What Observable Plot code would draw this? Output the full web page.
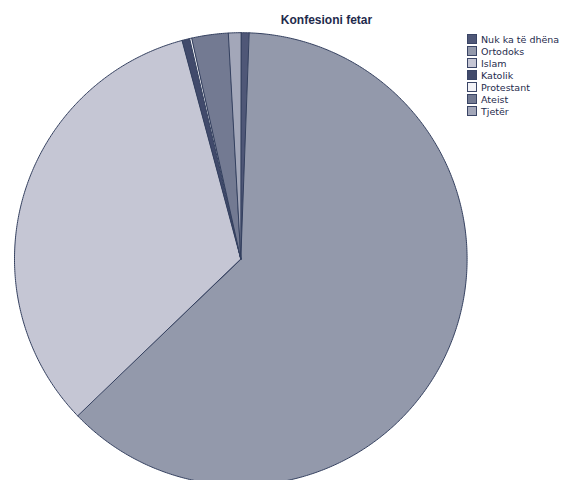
<!DOCTYPE html>
<html>
<head>
<meta charset="utf-8">
<script src="https://cdn.jsdelivr.net/npm/d3@7"></script>
<script src="https://cdn.jsdelivr.net/npm/@observablehq/plot@0.6"></script>
<style>
  html, body { margin: 0; padding: 0; background: #fff; overflow: hidden; }
  #wrap { position: relative; width: 561px; height: 480px; }
  #title { position: absolute; left: 0; width: 653px; top: 13px; text-align: center;
    font: bold 12px "Liberation Sans", Arial, sans-serif; color: #1f2b4d; }
  #legend { position: absolute; left: 467px; top: 33px; font: 9.5px "DejaVu Sans", sans-serif; color: #1f2b4d; }
  .row { height: 12px; line-height: 11px; display: flex; align-items: center; white-space: nowrap; }
  .sw { width: 8px; height: 8px; border: 1px solid #3a4566; margin-right: 4px; flex: none; }
</style>
</head>
<body>
<div id="wrap">
  <div id="chart"></div>
  <div id="title">Konfesioni fetar</div>
  <div id="legend"></div>
</div>
<script>
const categories = ["Nuk ka të dhëna", "Ortodoks", "Islam", "Katolik", "Protestant", "Ateist", "Tjetër"];
const values = [0.59, 62.2, 33.0, 0.55, 0.15, 2.6, 0.88];
const colors = ["#4f5777", "#9399ab", "#c5c6d4", "#414a6b", "#f2f2f6", "#737a92", "#a3a7b9"];

const rows = categories.map((c, i) => ({ key: c, value: values[i] }));
const arcs = d3.pie().sort(null).value(d => d.value)(rows);
const pts = [];
for (const a of arcs) {
  pts.push({ key: a.data.key, x: 0, y: 0 });
  const n = Math.max(2, Math.ceil((a.endAngle - a.startAngle) / (Math.PI / 360)));
  for (let k = 0; k <= n; k++) {
    const t = a.startAngle + (a.endAngle - a.startAngle) * k / n;
    pts.push({ key: a.data.key, x: Math.sin(t), y: Math.cos(t) });
  }
}

const cx = 240.3, cy = 258.5, r = 226.3;
const chart = Plot.plot({
  width: 561,
  height: 480,
  margin: 0,
  x: { domain: [-1, 1], range: [cx - r, cx + r], axis: null },
  y: { domain: [-1, 1], range: [cy + r, cy - r], axis: null },
  color: { domain: categories, range: colors },
  marks: [
    Plot.line(pts, { x: "x", y: "y", z: "key", fill: "key", stroke: "#34405f", strokeWidth: 1, curve: "linear-closed", strokeLinejoin: "round" })
  ]
});
chart.style.overflow = "visible";
document.getElementById("chart").appendChild(chart);

const leg = document.getElementById("legend");
categories.forEach((c, i) => {
  const row = document.createElement("div");
  row.className = "row";
  const sw = document.createElement("span");
  sw.className = "sw";
  sw.style.background = colors[i];
  const tx = document.createElement("span");
  tx.textContent = c;
  row.appendChild(sw); row.appendChild(tx);
  leg.appendChild(row);
});
</script>
</body>
</html>
